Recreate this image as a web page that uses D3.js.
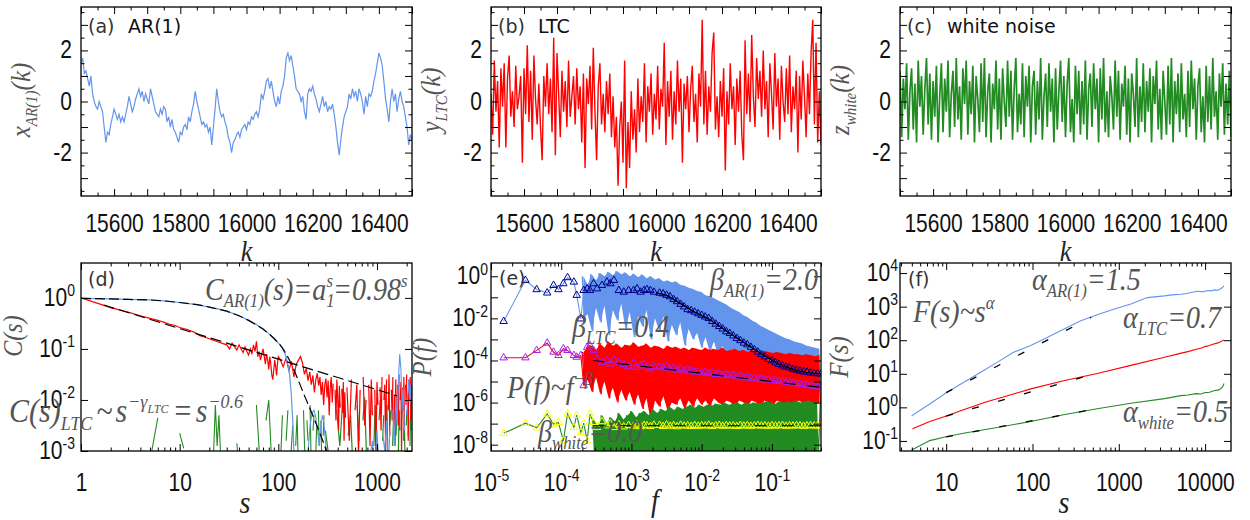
<!DOCTYPE html>
<html>
<head>
<meta charset="utf-8">
<script src="https://cdn.jsdelivr.net/npm/d3@7/dist/d3.min.js"></script>
<style>
  body { margin: 0; background: #fff; }
</style>
</head>
<body>
<svg id="fig" width="1250" height="520"></svg>
<script>
// ---------------- data ----------------

// top row: time series, one value every kStep samples
const kStart = 15500, kStep = 5
const arValues = [
  1.5, 1.7, 1.1, 1.2, 0.9, 0.6, 1.0, 0.3, 0.0, -0.2,
  -0.3, 0.0, -0.2, -0.4, -1.0, -1.6, -1.2, -1.3, -0.9, -0.6,
  -0.3, -0.5, -0.7, -0.5, -0.8, -0.6, -0.8, -0.5, -0.2, 0.2,
  -0.1, -0.4, -0.2, 0.1, 0.3, 0.5, 0.2, 0.4, 0.0, 0.3,
  0.1, -0.1, 0.5, 0.2, -0.1, -0.4, -0.5, -0.6, -0.3, -0.5,
  -0.2, -0.3, -0.8, -0.6, -1.0, -0.7, -1.1, -1.2, -1.4, -1.6,
  -1.2, -1.3, -1.0, -0.9, -1.1, -0.6, -0.8, -0.4, -0.1, 0.4,
  0.0, -0.3, -0.6, -0.9, -0.8, -1.0, -0.9, -1.2, -1.0, -1.7,
  -1.0, -0.3, 0.5, 0.0, -0.4, -0.6, -0.5, -0.8, -1.0, -1.4,
  -1.6, -2.0, -1.6, -1.5, -1.3, -1.2, -1.4, -1.1, -1.0, -0.9,
  -1.1, -0.8, -0.9, -0.6, -0.7, -0.5, -0.4, -0.6, -0.3, 0.3,
  0.1, 0.4, 0.8, 0.9, 0.5, 0.8, 0.4, 0.0, -0.2, 0.2,
  -0.1, 0.4, 0.6, 1.0, 1.7, 1.9, 1.6, 1.8, 1.4, 1.0,
  0.5, 0.4, 0.3, 0.0, 0.2, -0.4, -0.7, 0.3, 0.5, 0.4,
  0.6, 0.3, 0.1, -0.2, -0.4, -0.1, 0.2, -0.2, 0.0, -0.4,
  -0.2, -0.3, -0.1, -0.5, -1.0, -1.6, -2.1, -1.5, -1.0, -0.6,
  -0.4, -0.2, 0.3, 0.1, 0.5, 0.2, 0.4, 0.0, 0.5, 0.3,
  0.0, -0.5, 0.2, -0.2, 0.3, 0.2, 0.4, 0.8, 1.1, 1.5,
  1.9, 1.7, 1.4, 0.8, 0.1, -0.3, -0.8, 0.0, 0.5, 0.0,
  0.3, -0.4, 0.1, 0.4, 0.0, -0.2, -0.6, -1.0, -1.7, -1.3,
  -1.5
]
const ltcValues = [
  0.3, -1.3, 1.6, -0.4, 0.8, -1.8, 1.3, -0.2, 1.5, -1.8,
  0.9, 1.8, -0.6, 0.4, -1.0, 1.4, -0.3, 0.2, 1.0, -2.4,
  1.3, -0.5, 2.2, -0.8, 1.2, -1.5, 1.8, 0.1, -0.9, 0.7,
  -1.0, -2.3, 1.0, -0.2, 1.5, -0.5, 0.9, -1.2, 2.5, -2.1,
  1.9, 0.3, -1.4, 1.2, -0.4, 0.8, -1.0, 1.6, -0.6, 0.2,
  1.0, -0.9, 1.3, -0.3, 0.6, -1.6, 1.1, -2.6, 0.9, -0.1,
  1.4, -1.1, 2.1, -0.4, -2.3, 0.6, 1.5, -0.9, 0.3, -1.2,
  0.8, -0.5, 1.1, -1.4, 0.2, -1.8, -0.6, -3.3, -1.0, 0.0,
  -2.4, 1.6, -3.4, -0.8, -2.6, 0.4, -1.5, -0.3, -2.0, 0.9,
  -1.2, 0.2, -0.8, 1.5, -1.6, 0.6, -0.4, 1.1, -1.3, 0.3,
  -0.7, 1.4, -1.1, 0.5, -0.2, 2.3, -1.7, 0.8, -0.6, 1.2,
  -1.5, 0.4, -0.9, 1.6, -0.4, 0.9, -2.4, 0.7, -0.3, 1.0,
  -1.2, 0.5, 1.4, -0.8, 0.3, -1.6, 1.1, -0.2, 3.2, -0.9,
  1.2, -1.3, 0.6, -0.4, 1.9, 2.7, -1.1, 0.2, -1.4, 0.8,
  -0.6, 1.3, -2.7, 0.4, -0.9, 1.5, -0.3, 0.6, -1.7, 0.9,
  -0.4, 1.2, -1.3, -2.3, 2.4, -0.5, 1.1, -0.8, 2.6, 0.2,
  -1.0, 1.7, 0.1, 1.2, -0.6, 2.0, -0.3, 0.8, -1.4, 1.5,
  0.3, -1.1, 1.9, -0.2, 0.9, -1.5, 1.4, 0.0, -0.8, 1.3,
  -0.5, 1.8, -1.2, 0.6, -0.3, 1.2, -2.0, 1.0, -0.7, 1.6,
  0.2, -1.4, 1.1, -0.5, 1.9, 3.2, -0.9, 2.3, -1.6, 0.4,
  -1.7
]
const whiteValues = [
  1.2, -1.4, 0.9, -0.3, 1.5, -1.5, 0.4, 1.3, -1.1, 0.7,
  -1.6, 1.6, -0.2, 1.0, -1.3, 0.5, 1.7, -0.9, 1.1, -1.5,
  0.8, -0.6, 1.4, -1.6, 0.2, 1.5, -1.2, 0.9, -0.4, 1.6,
  -1.4, 0.3, 1.2, -1.0, 1.7, -0.7, 0.6, -1.5, 1.3, -0.1,
  1.6, -1.3, 0.8, -0.5, 1.4, -1.6, 1.0, 0.1, -1.2, 1.5,
  -0.8, 1.7, -1.4, 0.4, 1.1, -1.6, 0.7, -0.3, 1.6, -1.1,
  0.9, -1.5, 1.3, 0.0, -1.0, 1.6, -0.6, 1.2, -1.5, 0.5,
  1.7, -1.2, 0.3, -0.9, 1.5, -1.4, 1.0, -0.2, 1.4, -1.6,
  0.6, 1.2, -1.3, 0.8, -0.7, 1.7, -1.5, 0.2, 1.1, -1.0,
  1.5, -0.4, 0.9, -1.6, 1.3, -1.1, 0.4, 1.6, -0.8, 1.0,
  -1.4, 0.7, 1.7, -1.2, 0.1, -1.6, 1.4, -0.5, 1.2, -1.3,
  0.8, -0.9, 1.6, -1.5, 0.5, 1.1, -1.0, 1.5, -0.3, 0.9,
  -1.6, 1.3, -0.7, 1.7, -1.2, 0.4, -1.4, 1.0, 0.2, -1.1,
  1.6, -0.6, 1.2, -1.5, 0.7, -0.2, 1.4, -1.3, 0.9, -1.6,
  1.1, 0.3, -1.0, 1.7, -1.4, 0.6, -0.8, 1.5, -1.2, 0.8,
  -0.4, 1.3, -1.6, 1.0, -0.1, 1.6, -1.1, 0.5, -1.5, 1.2,
  0.0, -1.3, 1.4, -0.9, 1.7, -1.6, 0.8, -0.5, 1.1, -1.2,
  1.5, -0.7, 0.3, -1.4, 1.2, -1.0, 1.6, -0.3, 0.9, -1.5,
  0.6, 1.3, -1.2, 0.2, -1.6, 1.4, -0.8, 1.0, -1.1, 1.7,
  -0.6, 0.4, -1.5, 1.1, -0.2, 1.5, -1.3, 0.7, -0.9, 1.2,
  -1.4
]

// (d) autocorrelation C(s), stored as log10 C; null where C(s) <= 0
const dBlueS   = [1, 2, 3, 5, 7, 10, 15, 20, 25, 30, 40, 50, 60, 70, 80, 90, 100, 105, 110, 115, 120, 125, 130, 135, 140, 145]
const dBlueLog = [-0.01, -0.02, -0.03, -0.04, -0.06, -0.09, -0.13, -0.18, -0.22, -0.26, -0.35, -0.44, -0.52, -0.61, -0.70, -0.79, -0.88, -0.93, -0.99, -1.06, -1.16, -1.30, -1.50, -1.85, -2.40, -3.20]
const dBlueMidLog = [null, -3.0, -2.5, -2.25, -2.2, -2.35, -2.6, -2.9, -2.5, -2.3, -2.45, -2.8, -3.2, null]      // s = 190..320 step 10
const dBlueFarLog = [null, -3.1, -2.8, -3.5, -2.6, -3.3, null, -2.7, -3.0, -2.4, -3.4, -2.6, null, -2.2, -2.9,
  -1.9, -2.5, -1.6, -1.1, -1.4, -2.2, -1.8, -2.6, null, -2.3, -1.9, -1.6, -2.0, -1.7, -2.4]                     // s = 800..2250 step 50
const dRedS   = [1, 2, 3, 4, 5, 6, 7, 8, 9, 10, 12, 14, 16, 18, 20, 22, 25, 28]
const dRedLog = [0, -0.19, -0.28, -0.35, -0.40, -0.44, -0.48, -0.52, -0.54, -0.58, -0.62, -0.67, -0.74, -0.77, -0.80, -0.83, -0.87, -0.90]
const dRedMidLog = [-0.92, -1.0, -0.89, -0.96, -1.02, -0.92, -1.0, -1.07, -0.96, -1.05, -1.12, -1.0, -1.10, -0.92, -1.05, -0.85,
  -1.15, -1.05, -1.22, -1.10, -1.0, -1.15, -1.30, -1.10, -1.22, -1.40, -1.15, -1.30, -1.52, -1.60, -1.40, -1.22,
  -1.35, -1.52, -1.30, -1.15]                                                                                      // s = 30..100 step 2
const dRedTailLog = [-1.20, -1.35, -1.18, -1.42, -1.25, -1.55, -1.30, -1.22, -1.15, -1.28,
  -1.50, -1.38, -1.62, -1.45, -1.70, -1.52, -1.85, -1.60, -1.48, -1.72,
  -1.55, -1.90, -1.65, -2.10, -1.70, -1.58, -1.95, -1.62, -2.30, -1.75,
  -1.55, -2.05, -1.68, null, -1.80, -2.40, -1.60, -1.95, -2.60, -1.72,
  -2.15, null, -1.78, -2.25, -1.65, -2.80, -1.85, -2.35, null, -1.75]                                              // s = 104..496 step 8
const dRedFarLog = [-1.9, -2.8, -1.6, null, -2.2, -1.7, -3.1, -1.8, null, -1.55,
  -2.5, -2.0, null, -1.7, -2.9, -1.6, -2.3, null, -1.8, -3.2,
  -1.65, -2.1, null, -1.75, -2.6, -1.55, null, -2.0, -1.7, -3.0,
  -1.6, null, -2.2, -1.5, -2.7, null, -1.8, -2.4, -1.55, null,
  -1.9, -2.9, -1.6, -2.3, null, -1.7, -2.5, -1.5, null, -2.0,
  -1.65, -3.1, -1.75, null, -2.2, -1.55, -2.6, null, -1.7, -2.1,
  -1.5, null, -1.9, -2.8, -1.6, null, -2.0, -1.55, -2.4, -1.7,
  -2.2]                                                                                                            // s = 500..2250 step 25
const dGreenS   = [5, 6, 7, 10, 11, 12, 21, 22, 23, 24, 25, 26, 37, 38, 39]
const dGreenLog = [-3.2, -2.35, null, -2.65, -2.95, null, null, -3.1, -2.1, -2.9, -2.3, -3.1, null, -2.85, -3.1]
const dGreenMidLog = [-2.9, null, -2.1, -3.2, null, -2.4, -2.0, -3.1, null, -2.6,
  null, -3.3, -2.3, null, -2.8, -2.2, null, -3.0, -2.5, null,
  -2.9, -2.3, -3.4, null, -2.7, null, -2.2, -3.0, null, -2.4,
  -2.8, null, -2.1, -3.2, null, -2.6, -2.3, null, -3.0, -2.5,
  null, -2.2, -2.9, null, -2.4, -3.1, null, -2.7, -2.3, null]                                                      // s = 50..295 step 5
const dGreenFarLog = [-2.6, -3.2, null, -2.2, -2.9, -2.0, null, -2.7, -2.3, -3.3,
  null, -2.1, -2.8, null, -2.4, -1.95, -3.0, null, -2.5, -2.2,
  null, -2.9, -2.1, -3.2, null, -2.4, -2.0, null, -2.8, -2.3,
  null, -2.6, -2.1, -3.1, null, -2.5, -2.2, null, -2.9, -2.4,
  -2.0, null, -2.7, -2.3, null, -3.0, -2.2, -2.6, null, -2.4,
  -2.1, null, -2.8, -2.3, -3.1, null, -2.5, -2.2, null, -2.7,
  -2.4, null, -2.9, -2.3, -2.6, null]                                                                              // s = 300..2250 step 30
const dFitArS   = [1, 2, 3, 5, 7, 10, 15, 20, 30, 40, 50, 60, 70, 80, 90, 100, 110, 120, 130, 140, 160, 180, 200, 220, 240, 260, 280, 300, 315]
const dFitArLog = [-0.01, -0.02, -0.03, -0.04, -0.06, -0.09, -0.13, -0.18, -0.26, -0.35, -0.44, -0.53, -0.61, -0.70, -0.79, -0.88, -0.98, -1.10, -1.22, -1.35, -1.62, -1.87, -2.08, -2.27, -2.45, -2.62, -2.78, -2.94, -3.05]
const dFitLtcS   = [1.7, 1600]
const dFitLtcLog = [-0.14, -1.92]

// (e) power spectra, log10 f and log10 P; raw spectra alternate upper / lower excursions
const eRawStart = -3.70, eRawStep = 0.03
const eBlueRawLog = [0.0, -2.0, -0.4, -1.8, 0.1, -2.6, -0.2, -1.5, 0.15, -2.2,
  0.0, -1.4, 0.2, -2.8, 0.05, -1.6, 0.25, -2.1, 0.1, -1.3,
  0.18, -2.5, 0.0, -1.7, 0.12, -2.9, -0.05, -1.9, 0.08, -2.4,
  -0.1, -1.6, 0.0, -3.0, -0.15, -2.0, -0.1, -2.6, -0.25, -1.9,
  -0.2, -3.1, -0.3, -2.3, -0.25, -2.8, -0.4, -2.2, -0.45, -3.3,
  -0.55, -2.5, -0.6, -3.0, -0.7, -2.7, -0.75, -3.4, -0.9, -2.9,
  -0.95, -3.6, -1.05, -3.1, -1.15, -3.8, -1.25, -3.3, -1.35, -4.0,
  -1.5, -3.6, -1.6, -4.1, -1.7, -3.8, -1.85, -4.3, -1.95, -4.0,
  -2.1, -4.5, -2.2, -4.2, -2.35, -4.6, -2.45, -4.4, -2.55, -4.8,
  -2.65, -4.5, -2.75, -4.9, -2.85, -4.6, -2.95, -5.0, -3.0, -4.7,
  -3.1, -5.0, -3.15, -4.8, -3.2, -5.1, -3.3, -4.9, -3.35, -5.1,
  -3.4, -5.0, -3.45, -5.2]
const eRedRawLog = [-3.6, -5.2, -3.4, -4.9, -3.3, -5.5, -3.5, -4.8, -3.2, -5.6,
  -3.4, -5.0, -3.1, -5.8, -3.3, -5.3, -3.2, -6.0, -3.4, -5.4,
  -3.25, -5.9, -3.3, -5.5, -3.15, -6.1, -3.35, -5.6, -3.3, -6.3,
  -3.2, -5.8, -3.4, -6.9, -3.3, -5.9, -3.35, -6.2, -3.45, -5.7,
  -3.3, -6.4, -3.4, -6.0, -3.35, -6.1, -3.45, -5.8, -3.4, -6.3,
  -3.5, -5.9, -3.4, -6.2, -3.45, -5.8, -3.5, -6.1, -3.4, -5.9,
  -3.5, -6.2, -3.45, -5.8, -3.5, -6.0, -3.4, -6.1, -3.55, -5.9,
  -3.5, -6.0, -3.45, -6.2, -3.55, -5.9, -3.5, -6.0, -3.6, -6.1,
  -3.5, -5.9, -3.55, -6.0, -3.6, -6.2, -3.55, -5.9, -3.6, -6.0,
  -3.65, -6.1, -3.6, -5.9, -3.65, -6.0, -3.7, -6.1, -3.65, -6.0,
  -3.7, -6.2, -3.7, -5.9, -3.75, -6.0, -3.7, -6.1, -3.75, -6.0,
  -3.8, -6.1, -3.75, -6.0]
const eGreenRawStart = -3.55
const eGreenRawLog = [-6.8, -8.8, -7.2, -8.6, -6.6, -9.0, -7.0, -8.5, -6.7, -8.9,
  -6.9, -8.4, -6.5, -9.0, -6.8, -8.7, -6.6, -8.5, -6.4, -9.0,
  -6.7, -8.6, -6.5, -8.8, -6.4, -8.5, -6.6, -9.0, -6.3, -8.7,
  -6.5, -8.6, -6.3, -8.9, -6.4, -8.5, -6.2, -8.8, -6.35, -8.6,
  -6.2, -9.0, -6.3, -8.5, -6.2, -8.7, -6.1, -8.8, -6.25, -8.6,
  -6.1, -8.9, -6.2, -8.5, -6.1, -8.7, -6.15, -8.6, -6.05, -8.8,
  -6.1, -8.5, -6.0, -8.9, -6.1, -8.6, -6.05, -8.7, -6.0, -8.8,
  -6.1, -8.5, -6.0, -8.7, -6.05, -8.9, -6.0, -8.6, -6.05, -8.8,
  -6.0, -8.5, -5.95, -8.7, -6.0, -8.9, -6.05, -8.6, -5.95, -8.8,
  -6.0, -8.5, -5.95, -8.7, -6.0, -8.9, -5.9, -8.6, -6.0, -8.8,
  -5.95, -8.5, -5.9, -8.7, -6.0, -8.9, -5.95, -8.6, -5.9]
// binned spectra: first 30 frequencies listed, then a regular grid from -2.60 step 0.05
const eBinLogFLow = [-4.82, -4.51, -4.35, -4.20, -4.11, -4.04, -3.97, -3.91, -3.82, -3.78,
  -3.72, -3.68, -3.63, -3.59, -3.54, -3.49, -3.42, -3.35, -3.30, -3.25,
  -3.18, -3.11, -3.04, -2.97, -2.92, -2.87, -2.82, -2.78, -2.73, -2.68]
const eBinGridStart = -2.60, eBinGridStep = 0.05
const eArBinLog = [-2.14, -0.19, -0.63, -0.79, -0.43, -0.63, -0.35, -0.06, -0.27, -0.90,
  -2.02, -0.67, -0.59, -0.67, -0.35, -0.59, -0.43, -0.27, -0.35, -0.19,
  -0.67, -0.75, -0.67, -0.67, -0.59, -0.75, -0.67, -0.63, -0.67, -0.75,
  -0.80, -0.83, -0.90, -0.97, -1.10, -1.20, -1.33, -1.45, -1.58, -1.63,
  -1.70, -1.78, -1.85, -1.93, -2.00, -2.14, -2.27, -2.38, -2.50, -2.63,
  -2.71, -2.83, -2.95, -3.05, -3.17, -3.25, -3.37, -3.48, -3.60, -3.71,
  -3.82, -3.95, -4.01, -4.10, -4.18, -4.25, -4.31, -4.35, -4.42, -4.46,
  -4.50, -4.54, -4.55, -4.59, -4.61, -4.63, -4.64]
const eLtcBinLog = [-3.87, -3.87, -3.52, -3.17, -3.60, -3.76, -3.44, -3.52, -3.76, -3.84,
  -3.76, -5.19, -3.37, -3.29, -3.52, -3.92, -4.08, -4.00, -4.16, -3.97,
  -4.08, -4.19, -4.29, -4.13, -4.32, -4.24, -4.16, -4.32, -4.40, -4.29,
  -4.30, -4.35, -4.28, -4.40, -4.36, -4.45, -4.40, -4.50, -4.45, -4.48,
  -4.55, -4.52, -4.58, -4.55, -4.62, -4.58, -4.66, -4.63, -4.70, -4.67,
  -4.72, -4.70, -4.78, -4.75, -4.82, -4.79, -4.84, -4.82, -4.88, -4.86,
  -4.92, -4.90, -4.95, -4.94, -4.99, -4.98, -5.03, -5.04, -5.08, -5.09,
  -5.12, -5.14, -5.18, -5.20, -5.23, -5.25, -5.28]
const eWhiteBinLog = [-7.46, -6.98, -7.20, -6.54, -7.02, -6.94, -7.81, -6.54, -7.18, -6.60,
  -7.42, -6.98, -7.81, -6.54, -6.94, -7.18, -6.90, -7.10, -7.00, -7.18,
  -7.05, -7.15, -7.08, -7.12, -7.06, -7.14, -7.08, -7.10, -7.13, -7.07,
  -7.08, -7.13, -7.06, -7.12, -7.09, -7.14, -7.07, -7.11, -7.10, -7.13,
  -7.08, -7.12, -7.09, -7.11, -7.07, -7.13, -7.10, -7.08, -7.12, -7.09,
  -7.11, -7.10, -7.13, -7.08, -7.11, -7.09, -7.12, -7.10, -7.08, -7.11,
  -7.10, -7.12, -7.09, -7.11, -7.10, -7.08, -7.12, -7.10, -7.11, -7.09,
  -7.10, -7.12, -7.10, -7.09, -7.11, -7.10, -7.10]
const eFitArLogF = [-2.65, -2.5, -2.3, -2.1, -1.9, -1.7, -1.5, -1.3, -1.1, -0.9, -0.7, -0.5, -0.3]
const eFitArLog  = [-0.78, -0.90, -1.30, -1.70, -2.03, -2.48, -2.93, -3.36, -3.80, -4.17, -4.42, -4.57, -4.64]
const eFitLtcLogF = [-3.55, -0.30], eFitLtcLog = [-4.0, -5.28]
const eFitWhiteLogF = [-3.55, -0.30], eFitWhiteLog = [-7.10, -7.10]

// (f) DFA fluctuation function, log10 s and log10 F(s)
const fBlueLogS = [0.60, 0.81, 1.01, 1.20, 1.395, 1.59, 1.78, 1.98, 2.17, 2.36, 2.56, 2.75, 2.95, 3.14, 3.33, 3.53, 3.62, 3.72, 3.80, 3.85, 3.915, 3.97, 4.03, 4.07, 4.11, 4.15, 4.19, 4.22]
const fBlueLogF = [-0.25, 0.10, 0.45, 0.74, 1.04, 1.34, 1.64, 1.84, 2.08, 2.33, 2.58, 2.76, 2.93, 3.08, 3.27, 3.32, 3.35, 3.37, 3.40, 3.43, 3.46, 3.44, 3.48, 3.47, 3.50, 3.49, 3.55, 3.62]
const fRedLogS = [0.61, 0.81, 1.01, 1.20, 1.47, 1.78, 1.98, 2.36, 2.75, 3.14, 3.53, 3.70, 3.80, 3.90, 3.95, 4.00, 4.05, 4.10, 4.15, 4.19, 4.22]
const fRedLogF = [-0.64, -0.42, -0.25, -0.07, 0.17, 0.40, 0.55, 0.79, 1.01, 1.25, 1.49, 1.60, 1.66, 1.73, 1.76, 1.81, 1.84, 1.89, 1.92, 1.97, 2.01]
const fGreenLogS = [0.60, 0.81, 1.01, 1.20, 1.59, 1.98, 2.36, 2.75, 3.14, 3.53, 3.72, 3.80, 3.90, 3.95, 4.00, 4.05, 4.11, 4.16, 4.20, 4.22]
const fGreenLogF = [-1.27, -0.99, -0.87, -0.77, -0.60, -0.42, -0.22, -0.04, 0.12, 0.26, 0.35, 0.37, 0.41, 0.40, 0.44, 0.45, 0.50, 0.52, 0.60, 0.71]
const fFitLogS = [1.0, 2.68]
const fFitBlueLogF = [0.44, 2.68], fFitRedLogF = [-0.26, 0.97], fFitGreenLogF = [-0.88, -0.07]

// ---------------- layout ----------------
const cols = [[81, 412], [491, 821], [900, 1231]]
const rowTop = [7, 196], rowBot = [263, 451]
const SANS = '"Liberation Sans", Arial, Helvetica, sans-serif'
const SERIF = '"Liberation Serif", "Times New Roman", "DejaVu Serif", serif'
const LAB = '"DejaVu Sans", sans-serif'
const TICK_SY = 1.2
const blueC = "#6495ED", redC = "#FF0000", greenC = "#228B22"
const navyC = "#00008B", magC = "#A020F0", yelC = "#FFFF00"

const svg = d3.select("#fig")

function grid(start, step, n) { return d3.range(n).map(i => +(start + i * step).toFixed(4)) }
function zip(xs, ys) { return ys.map((v, i) => [xs[i], v]) }
function decades(lo, hi) {
  const out = []
  for (let e = Math.ceil(Math.log10(lo) - 1e-9); e <= Math.floor(Math.log10(hi) + 1e-9); e++) out.push(Math.pow(10, e))
  return out
}
function logMinor(lo, hi) {
  const out = []
  for (let e = Math.floor(Math.log10(lo)); e <= Math.ceil(Math.log10(hi)); e++)
    for (let m = 2; m <= 9; m++) { const v = m * Math.pow(10, e); if (v >= lo && v <= hi) out.push(v) }
  return out
}

function writeTick(t, d, fmt) {
  if (fmt === "pow") {
    t.append("tspan").text("10")
    t.append("tspan").attr("dy", -8).attr("font-size", 14).text(String(Math.round(Math.log10(d))))
  } else t.text(String(d))
}

// box, inward ticks on all four sides, labels bottom and left
function frame(id, col, row, x, y, o) {
  const [x0, x1] = col, [y0, y1] = row
  const g = svg.append("g").attr("id", id)
  g.append("clipPath").attr("id", "clip-" + id).append("rect")
    .attr("x", x0).attr("y", y0).attr("width", x1 - x0).attr("height", y1 - y0)
  const plot = g.append("g").attr("clip-path", `url(#clip-${id})`)
  const axes = g.append("g")
  const sides = [
    [d3.axisBottom, x, `translate(0,${y1})`, o.xMajor, o.xMinor],
    [d3.axisTop, x, `translate(0,${y0})`, o.xMajor, o.xMinor],
    [d3.axisLeft, y, `translate(${x0},0)`, o.yMajor, o.yMinor],
    [d3.axisRight, y, `translate(${x1},0)`, o.yMajor, o.yMinor]]
  sides.forEach(([axisFn, sc, tr, major, minor]) => {
    [[major, 7], [minor, 3.5]].forEach(([vals, len]) => {
      if (!vals || !vals.length) return
      axes.append("g").attr("transform", tr)
        .call(axisFn(sc).tickValues(vals).tickSize(-len).tickFormat(""))
        .call(a => a.select(".domain").remove())
        .call(a => a.selectAll(".tick line").attr("stroke", "#000").attr("stroke-width", 1))
    })
  })
  axes.append("rect").attr("x", x0).attr("y", y0).attr("width", x1 - x0).attr("height", y1 - y0)
    .attr("fill", "none").attr("stroke", "#000").attr("stroke-width", 1.3)

  const bl = axes.append("g").attr("transform", `translate(0,${y1})`)
    .call(d3.axisBottom(x).tickValues(o.xLabels).tickSize(0).tickFormat(""))
  bl.select(".domain").remove()
  bl.selectAll(".tick text").each(function (d) {
    const t = d3.select(this).attr("dy", null).attr("y", o.xLabDy / TICK_SY)
      .attr("transform", `scale(1,${TICK_SY})`)
      .attr("font-family", SANS).attr("font-size", 21).attr("fill", "#111").attr("text-anchor", "middle")
    writeTick(t, d, o.xFmt)
  })
  const ll = axes.append("g").attr("transform", `translate(${x0},0)`)
    .call(d3.axisLeft(y).tickValues(o.yLabels).tickSize(0).tickFormat(""))
  ll.select(".domain").remove()
  ll.selectAll(".tick text").each(function (d) {
    const t = d3.select(this).attr("dy", null).attr("x", -o.yLabGap).attr("y", 7.5 / TICK_SY)
      .attr("transform", `scale(1,${TICK_SY})`)
      .attr("font-family", SANS).attr("font-size", 21).attr("fill", "#111").attr("text-anchor", "end")
    writeTick(t, d, o.yFmt)
  })
  return plot
}

// italic serif formula built from tspans: parts = [text, kind, dx]
function mathText(x, y, parts, o = {}) {
  const size = o.size || 28
  const t = svg.append("text")
    .attr("transform", `translate(${x},${y})` + (o.rotate ? " rotate(-90)" : "") + ` scale(1,${o.sy || 1.1})`)
    .attr("font-family", SERIF).attr("font-style", "italic")
    .attr("font-size", size).attr("fill", o.color || "#555")
    .attr("text-anchor", o.anchor || "start")
  const shift = { "": 0, sub: 0.24, sup: -0.42, ss: -0.26 }
  const scale = { "": 1, sub: 0.6, sup: 0.6, ss: 0.4 }
  let cur = 0
  parts.forEach(([s, k = "", dx = 0]) => {
    const sh = shift[k] * size
    t.append("tspan").attr("dy", sh - cur).attr("dx", dx).attr("font-size", size * scale[k]).text(s)
    cur = sh
  })
}

function plainLabel(x, y, txt, color) {
  svg.append("text").attr("x", x).attr("y", y).attr("font-family", LAB).attr("font-size", 19)
    .attr("fill", color).text(txt)
}

// ---------------- top row: time series ----------------
const topSeries = [
  { id: "a", values: arValues, color: blueC, width: 1.2, tag: "(a)", name: "AR(1)", v: "x", sub: "AR(1)" },
  { id: "b", values: ltcValues, color: redC, width: 1.4, tag: "(b)", name: "LTC", v: "y", sub: "LTC" },
  { id: "c", values: whiteValues, color: greenC, width: 1.7, tag: "(c)", name: "white noise", v: "z", sub: "white" }]

topSeries.forEach((p, i) => {
  const col = cols[i]
  const x = d3.scaleLinear().domain([15500, 16500]).range(col)
  const y = d3.scaleLinear().domain([-3.7, 3.7]).range([rowTop[1], rowTop[0]])
  const plot = frame(p.id, col, rowTop, x, y, {
    xMajor: d3.range(15500, 16501, 100), xMinor: d3.range(15550, 16500, 100),
    yMajor: [-3, -2, -1, 0, 1, 2, 3], yMinor: [-3.5, -2.5, -1.5, -0.5, 0.5, 1.5, 2.5, 3.5],
    xLabels: [15600, 15800, 16000, 16200, 16400], yLabels: [-2, 0, 2],
    xLabDy: 36, yLabGap: 9 })
  const pts = p.values.map((v, j) => [kStart + j * kStep, v])
  plot.append("path").datum(pts)
    .attr("d", d3.line().x(d => x(d[0])).y(d => y(d[1])))
    .attr("fill", "none").attr("stroke", p.color).attr("stroke-width", p.width)
  plainLabel(col[0] + 7, 33, p.tag, "#333")
  plainLabel(col[0] + 47, 33, p.name, "#111")
  mathText(col[0] - 51, 100, [[p.v], [p.sub, "sub"], ["(k)"]], { rotate: true, anchor: "middle", size: 25 })
  mathText((col[0] + col[1]) / 2, 261, [["k"]], { anchor: "middle", size: 26, color: "#222" })
})

// ---------------- (d) autocorrelation ----------------
{
  const col = cols[0]
  const x = d3.scaleLog().domain([1, 2265]).range(col)
  const y = d3.scaleLog().domain([1e-3, Math.pow(10, 0.684)]).range([rowBot[1], rowBot[0]])
  const plot = frame("d", col, rowBot, x, y, {
    xMajor: decades(1, 2265), xMinor: logMinor(1, 2265),
    yMajor: decades(1e-3, 4.8), yMinor: [],
    xLabels: [1, 10, 100, 1000], yLabels: [1e-3, 1e-2, 1e-1, 1],
    xFmt: "plain", yFmt: "pow", xLabDy: 40, yLabGap: 6 })
  const line = d3.line().defined(d => d[1] !== null).x(d => x(d[0])).y(d => y(Math.pow(10, d[1])))
  const draw = (pts, color, w, dash) => plot.append("path").datum(pts).attr("d", line)
    .attr("fill", "none").attr("stroke", color).attr("stroke-width", w).attr("stroke-dasharray", dash || null)

  draw(zip(dGreenS, dGreenLog), greenC, 1.1)
  draw(zip(grid(50, 5, dGreenMidLog.length), dGreenMidLog), greenC, 1.1)
  draw(zip(grid(300, 30, dGreenFarLog.length), dGreenFarLog), greenC, 1.2)
  const redPts = zip(dRedS, dRedLog)
    .concat(zip(grid(30, 2, dRedMidLog.length), dRedMidLog))
    .concat(zip(grid(104, 8, dRedTailLog.length), dRedTailLog))
    .concat(zip(grid(500, 25, dRedFarLog.length), dRedFarLog))
  draw(redPts, redC, 1.2)
  draw(zip(dBlueS, dBlueLog), blueC, 1.2)
  draw(zip(grid(190, 10, dBlueMidLog.length), dBlueMidLog), blueC, 1.1)
  draw(zip(grid(800, 50, dBlueFarLog.length), dBlueFarLog), blueC, 1.1)
  draw(zip(dFitArS, dFitArLog), "#000", 1.2, "10,4")
  draw(zip(dFitLtcS, dFitLtcLog), "#000", 1.2, "11,5")

  plainLabel(col[0] + 7, 286, "(d)", "#333")
  mathText(205, 300, [["C"], ["AR(1)", "sub"], ["(s)=a"], ["1", "sub"], ["s", "sup", -8], ["=0.98"], ["s", "sup"]])
  mathText(9, 422, [["C(s)"], ["LTC", "sub"], ["~", "", 4], ["s", "", 3], ["\u2212\u03b3", "sup", 1], ["LTC", "ss"], ["=", "", 4], ["s", "", 3], ["\u22120.6", "sup", 1]], { size: 30 })
  mathText(22, 336, [["C(s)"]], { rotate: true, anchor: "middle", size: 24 })
  mathText(245, 513, [["s"]], { anchor: "middle", size: 28, color: "#222" })
}

// ---------------- (e) power spectra ----------------
{
  const col = cols[1]
  const x = d3.scaleLog().domain([1e-5, 0.5]).range(col)
  const y = d3.scaleLog().domain([Math.pow(10, -8.3), Math.pow(10, 0.63)]).range([rowBot[1], rowBot[0]])
  const plot = frame("e", col, rowBot, x, y, {
    xMajor: decades(1e-5, 0.5), xMinor: logMinor(1e-5, 0.5),
    yMajor: decades(1e-8, 1), yMinor: [],
    xLabels: [1e-5, 1e-4, 1e-3, 1e-2, 1e-1], yLabels: [1e-8, 1e-6, 1e-4, 1e-2, 1],
    xFmt: "pow", yFmt: "pow", xLabDy: 40, yLabGap: 3 })
  const px = lf => x(Math.pow(10, lf)), py = lp => y(Math.pow(10, lp))
  const line = d3.line().defined(d => d[1] !== null).x(d => px(d[0])).y(d => py(d[1]))
  const draw = (pts, color, w, dash) => plot.append("path").datum(pts).attr("d", line)
    .attr("fill", "none").attr("stroke", color).attr("stroke-width", w).attr("stroke-dasharray", dash || null)

  // raw periodograms: solid core between the lower and upper excursions, plus the spiky trace itself
  const raw = (start, vals, color) => {
    const band = []
    for (let j = 0; j + 1 < vals.length; j += 2) band.push([start + (j + 0.5) * eRawStep, vals[j], vals[j + 1]])
    plot.append("path").datum(band)
      .attr("d", d3.area().x(d => px(d[0])).y1(d => py(d[1])).y0(d => py(d[2])))
      .attr("fill", color).attr("stroke", "none")
    draw(zip(grid(start, eRawStep, vals.length), vals), color, 1.3)
  }
  raw(eRawStart, eBlueRawLog, blueC)
  raw(eRawStart, eRedRawLog, redC)
  raw(eGreenRawStart, eGreenRawLog, greenC)

  const binF = eBinLogFLow.concat(grid(eBinGridStart, eBinGridStep, eArBinLog.length - eBinLogFLow.length))
  const bins = [[eArBinLog, blueC, navyC], [eLtcBinLog, redC, magC], [eWhiteBinLog, greenC, yelC]]
  bins.forEach(([vals, lc]) => draw(zip(binF, vals), lc, 1.1))
  const tri = d3.symbol(d3.symbolTriangle, 24)
  bins.forEach(([vals, , mc]) => {
    plot.append("g").selectAll("path").data(zip(binF, vals)).join("path")
      .attr("transform", d => `translate(${px(d[0])},${py(d[1])})`)
      .attr("d", tri).attr("fill", "none").attr("stroke", mc).attr("stroke-width", 1)
  })
  draw(zip(eFitArLogF, eFitArLog), "#000", 1.2)
  draw(zip(eFitLtcLogF, eFitLtcLog), "#000", 1.2, "12,12")
  draw(zip(eFitWhiteLogF, eFitWhiteLog), "#000", 1.2, "12,15")

  plainLabel(col[0] + 8, 285, "(e)", "#333")
  mathText(710, 290, [["\u03b2"], ["AR(1)", "sub"], ["=2.0"]])
  mathText(572, 337, [["\u03b2"], ["LTC", "sub"], ["=0.4"]])
  mathText(507, 398, [["P(f)~f"], ["\u2212\u03b2", "sup"]])
  mathText(538, 442, [["\u03b2"], ["white", "sub"], ["=0.0"]])
  mathText(431, 357, [["P(f)"]], { rotate: true, anchor: "middle", size: 25 })
  mathText(655, 511, [["f"]], { anchor: "middle", size: 28, color: "#222" })
}

// ---------------- (f) DFA ----------------
{
  const col = cols[2]
  const x = d3.scaleLog().domain([Math.pow(10, 0.465), Math.pow(10, 4.30)]).range(col)
  const y = d3.scaleLog().domain([Math.pow(10, -1.3), Math.pow(10, 4.3)]).range([rowBot[1], rowBot[0]])
  const plot = frame("f", col, rowBot, x, y, {
    xMajor: decades(3, 19950), xMinor: logMinor(3, 19950),
    yMajor: decades(0.05, 19950), yMinor: [],
    xLabels: [10, 100, 1000, 10000], yLabels: [0.1, 1, 10, 100, 1000, 10000],
    xFmt: "plain", yFmt: "pow", xLabDy: 40, yLabGap: 2 })
  const line = d3.line().x(d => x(Math.pow(10, d[0]))).y(d => y(Math.pow(10, d[1])))
  const draw = (pts, color, w, dash) => plot.append("path").datum(pts).attr("d", line)
    .attr("fill", "none").attr("stroke", color).attr("stroke-width", w).attr("stroke-dasharray", dash || null)
  draw(zip(fBlueLogS, fBlueLogF), blueC, 1.1)
  draw(zip(fRedLogS, fRedLogF), redC, 1.1)
  draw(zip(fGreenLogS, fGreenLogF), greenC, 1.1)
  draw(zip(fFitLogS, fFitBlueLogF), "#000", 1.3, "7,20")
  draw(zip(fFitLogS, fFitRedLogF), "#000", 1.3, "7,20")
  draw(zip(fFitLogS, fFitGreenLogF), "#000", 1.3, "7,20")

  plainLabel(col[0] + 8, 286, "(f)", "#333")
  mathText(1032, 290, [["\u03b1"], ["AR(1)", "sub"], ["=1.5"]])
  mathText(913, 322, [["F(s)~s"], ["\u03b1", "sup"]])
  mathText(1123, 328, [["\u03b1"], ["LTC", "sub"], ["=0.7"]])
  mathText(1123, 422, [["\u03b1"], ["white", "sub"], ["=0.5"]])
  mathText(848, 357, [["F(s)"]], { rotate: true, anchor: "middle", size: 25 })
  mathText(1064, 513, [["s"]], { anchor: "middle", size: 28, color: "#222" })
}
</script>
</body>
</html>
